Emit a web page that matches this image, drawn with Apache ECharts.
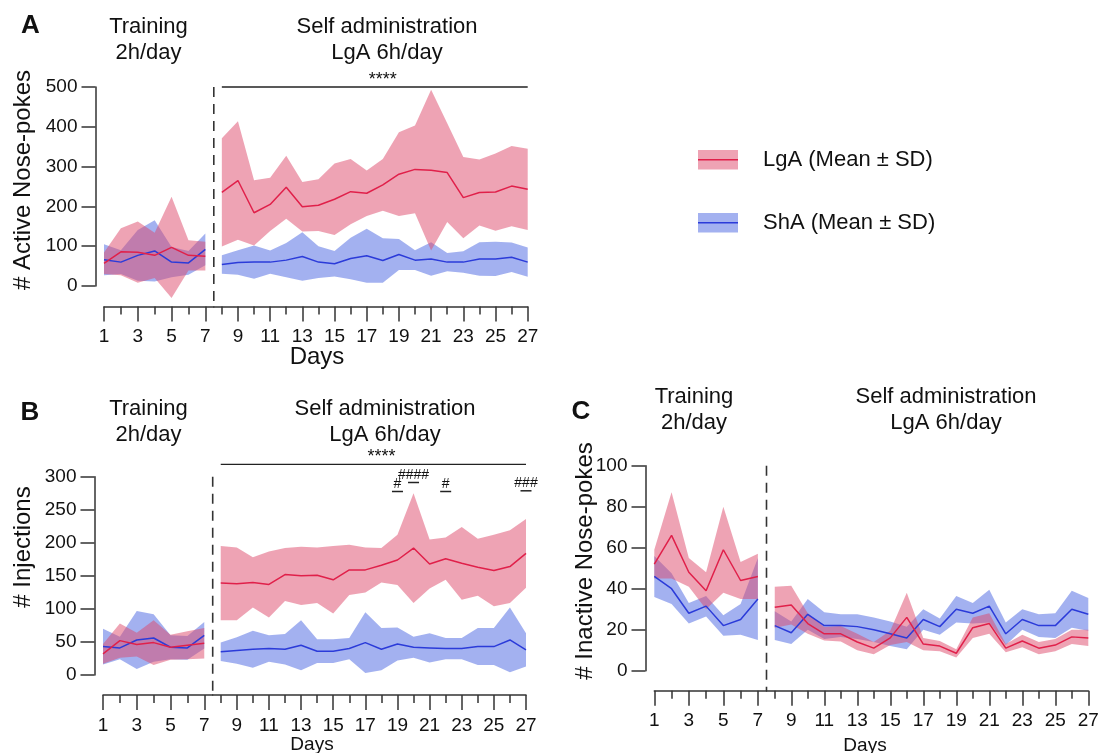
<!DOCTYPE html>
<html>
<head>
<meta charset="utf-8">
<script src="https://cdn.jsdelivr.net/npm/echarts@6/dist/echarts.min.js"></script>
<style>
  html, body { margin: 0; padding: 0; background: #fff; }
  #chart { width: 1102px; height: 753px; }
</style>
</head>
<body>
<div id="chart"></div>
<script>
const trainingDays = [1, 2, 3, 4, 5, 6, 7]
const selfAdminDays = [8, 9, 10, 11, 12, 13, 14, 15, 16, 17, 18, 19, 20, 21, 22, 23, 24, 25, 26, 27]
const trainingMajor = [1, 3, 5, 7]
const trainingMinor = [2, 4, 6]
const selfAdminMajor = [9, 11, 13, 15, 17, 19, 21, 23, 25, 27]
const selfAdminMinor = [8, 10, 12, 14, 16, 18, 20, 22, 24, 26]

// A - active nose-pokes (days 1..27)
const activeYTicks = [0, 100, 200, 300, 400, 500]
const activeLgaMean = [57, 86, 85, 77, 97, 77, 75, 235, 265, 184, 205, 248, 199, 203, 218, 237, 233, 254, 281, 293, 291, 285, 222, 235, 236, 251, 243]
const activeLgaSd = [27, 59, 77, 57, 127, 38, 36, 136, 149, 82, 67, 79, 62, 65, 90, 82, 57, 65, 105, 110, 202, 124, 102, 83, 97, 101, 102]
const activeShaMean = [66, 60, 77, 88, 60, 58, 92, 54, 59, 60, 60, 65, 74, 60, 56, 69, 76, 64, 79, 65, 68, 60, 60, 68, 68, 72, 60]
const activeShaSd = [39, 30, 64, 77, 38, 30, 40, 23, 31, 42, 29, 43, 61, 40, 32, 52, 68, 56, 39, 25, 42, 23, 27, 42, 43, 37, 37]

// B - injections
const injYTicks = [0, 50, 100, 150, 200, 250, 300]
const injLgaMean = [32, 52, 46, 49, 42, 45, 48, 139, 138, 140, 137, 152, 150, 151, 144, 159, 159, 166, 174, 192, 168, 176, 169, 163, 158, 164, 184]
const injLgaSd = [15, 26, 18, 34, 19, 21, 23, 56, 55, 38, 50, 40, 44, 42, 51, 38, 34, 26, 38, 83, 37, 32, 55, 43, 54, 55, 52]
const injShaMean = [43, 41, 53, 56, 42, 41, 60, 35, 37, 39, 40, 39, 45, 36, 36, 40, 49, 39, 47, 42, 41, 40, 40, 43, 43, 53, 38]
const injShaSd = [27, 17, 44, 36, 18, 18, 20, 14, 20, 28, 20, 23, 38, 18, 18, 16, 46, 32, 25, 16, 22, 16, 16, 28, 28, 49, 25]
const hashDays = [19, 20, 22, 27]
const hashLabels = ['#', '####', '#', '###']

// C - inactive nose-pokes
const inactYTicks = [0, 20, 40, 60, 80, 100]
const inactLgaMean = [52, 66, 48, 39, 59, 44, 46, 31, 32, 23, 18, 18, 14, 11, 16, 26, 13, 12, 8.5, 21, 23, 11, 14.5, 11, 12.5, 16.5, 16]
const inactLgaSd = [7, 21, 7, 9, 21, 9, 11, 10, 9.5, 5, 3.3, 3.8, 4, 3, 3.5, 12, 3, 2.5, 2, 5, 5, 2, 3, 3, 3, 3.5, 4]
const inactShaMean = [46, 40, 28, 31.5, 22, 25, 35, 22, 18.5, 27.5, 22, 22, 21.5, 20, 18, 16, 25, 21.5, 30, 28, 31.5, 18, 25, 22, 22, 30, 27.5]
const inactShaSd = [10, 7.5, 5, 5, 5, 7.5, 20, 7, 5.5, 7.5, 6.5, 5.5, 6, 6, 6, 5.5, 5, 4, 6.5, 5, 8, 5.5, 5, 5.5, 6, 9, 8]

const FONT = 'Liberation Sans, Arial, Helvetica, sans-serif'
const INK = '#111'
const AXIS = '#333'
const LGA_LINE = '#e0204a'
const LGA_FILL = 'rgba(222, 72, 106, 0.5)'
const SHA_LINE = '#2b3bd9'
const SHA_FILL = 'rgba(72, 100, 226, 0.5)'

const panels = [
  { ticks: activeYTicks, lga: [activeLgaMean, activeLgaSd], sha: [activeShaMean, activeShaSd],
    left: 104, sep: 213.8, right: 527.7, top: 87, bottom: 286, drop: 20.5, yGap: 8.5 },
  { ticks: injYTicks, lga: [injLgaMean, injLgaSd], sha: [injShaMean, injShaSd],
    left: 103, sep: 212.7, right: 526, top: 476.7, bottom: 675, drop: 20, yGap: 8.5 },
  { ticks: inactYTicks, lga: [inactLgaMean, inactLgaSd], sha: [inactShaMean, inactShaSd],
    left: 654.3, sep: 766.5, right: 1088.3, top: 465.7, bottom: 670.7, drop: 20, yGap: 8.8 }
]

const grid = []
const xAxis = []
const yAxis = []
const series = []

// mean line plus a mean ± SD band (polygon through the axis scales)
function bandSeries(xIdx, yIdx, days, offset, mean, sd, line, fill) {
  const lower = days.map((d, i) => mean[offset + i] - sd[offset + i])
  const upper = days.map((d, i) => mean[offset + i] + sd[offset + i])
  return [
    {
      type: 'custom', xAxisIndex: xIdx, yAxisIndex: yIdx, silent: true, clip: false, animation: false,
      data: days.map((d, i) => [d, lower[i], upper[i]]),
      encode: { x: 0, y: [1, 2] },
      renderItem(params, api) {
        if (params.dataIndex !== 0) return null
        const top = days.map((d, i) => api.coord([d, upper[i]]))
        const bottom = days.map((d, i) => api.coord([d, lower[i]])).reverse()
        return { type: 'polygon', shape: { points: top.concat(bottom) }, style: { fill: fill } }
      }
    },
    {
      type: 'line', xAxisIndex: xIdx, yAxisIndex: yIdx, symbol: 'none', showSymbol: false,
      silent: true, clip: false, animation: false,
      data: days.map((d, i) => [d, mean[offset + i]]),
      lineStyle: { color: line, width: 1.5 }
    }
  ]
}

panels.forEach((p, pi) => {
  const sections = [
    { days: trainingDays, offset: 0, min: 1, max: 7.5, x0: p.left, x1: p.sep, major: trainingMajor, minor: trainingMinor },
    { days: selfAdminDays, offset: 7, min: 7.5, max: 27, x0: p.sep, x1: p.right, major: selfAdminMajor, minor: selfAdminMinor }
  ]
  sections.forEach((s, si) => {
    const g = grid.length
    grid.push({ left: s.x0, top: p.top, width: s.x1 - s.x0, height: p.bottom - p.top, outerBoundsMode: 'none', containLabel: false })
    const xi = xAxis.length
    xAxis.push({
      gridIndex: g, type: 'value', min: s.min, max: s.max, position: 'bottom', offset: p.drop,
      axisLine: { show: true, onZero: false, lineStyle: { color: AXIS, width: 1.5 } },
      axisTick: { show: true, length: 15, customValues: s.major, lineStyle: { color: AXIS, width: 1.5 } },
      axisLabel: { show: true, customValues: s.major, margin: 21, fontSize: 19, fontFamily: FONT, color: INK },
      splitLine: { show: false }
    })
    xAxis.push({
      gridIndex: g, type: 'value', min: s.min, max: s.max, position: 'bottom', offset: p.drop,
      axisLine: { show: false, onZero: false },
      axisTick: { show: true, length: 8, customValues: s.minor, lineStyle: { color: AXIS, width: 1.5 } },
      axisLabel: { show: false },
      splitLine: { show: false }
    })
    const yi = yAxis.length
    yAxis.push({
      gridIndex: g, type: 'value', show: si === 0,
      min: p.ticks[0], max: p.ticks[p.ticks.length - 1], interval: p.ticks[1] - p.ticks[0],
      position: 'left', offset: p.yGap,
      axisLine: { show: true, onZero: false, lineStyle: { color: AXIS, width: 1.5 } },
      axisTick: { show: true, length: 14, lineStyle: { color: AXIS, width: 1.5 } },
      axisLabel: { margin: 18, fontSize: 19, fontFamily: FONT, color: INK },
      splitLine: { show: false }
    })
    series.push(...bandSeries(xi, yi, s.days, s.offset, p.sha[0], p.sha[1], SHA_LINE, SHA_FILL))
    series.push(...bandSeries(xi, yi, s.days, s.offset, p.lga[0], p.lga[1], LGA_LINE, LGA_FILL))
  })
})

const chart = echarts.init(document.getElementById('chart'))
chart.setOption({
  animation: false,
  backgroundColor: '#fff',
  textStyle: { fontFamily: FONT },
  grid, xAxis, yAxis, series
})

function text(x, y, str, size, extra) {
  return {
    type: 'text', x, y, silent: true,
    style: Object.assign({
      text: str, fontSize: size, fontFamily: FONT, fill: INK,
      align: 'center', verticalAlign: 'middle', textAlign: 'center', textVerticalAlign: 'middle'
    }, extra || {})
  }
}

const graphic = []
panels.forEach((p, pi) => {
  const xl = pi * 4
  const yl = pi * 2
  // dashed separator between training and self administration
  const sepTop = chart.convertToPixel({ xAxisIndex: xl, yAxisIndex: yl }, [7.5, p.ticks[p.ticks.length - 1]])
  const sepBottom = chart.convertToPixel({ xAxisIndex: xl, yAxisIndex: yl }, [7.5, p.ticks[0]])
  graphic.push({
    type: 'line', silent: true,
    shape: { x1: sepTop[0], y1: sepTop[1], x2: sepTop[0], y2: sepBottom[1] + p.drop },
    style: { stroke: AXIS, lineWidth: 1.6, lineDash: [10, 7] }
  })
})

// significance bars (A and B)
;[[0, 0], [1, 12.4]].forEach(([pi, lift]) => {
  const p = panels[pi]
  const xr = pi * 4 + 2
  const yr = pi * 2 + 1
  const yMax = p.ticks[p.ticks.length - 1]
  const a = chart.convertToPixel({ xAxisIndex: xr, yAxisIndex: yr }, [8, yMax])
  const b = chart.convertToPixel({ xAxisIndex: xr, yAxisIndex: yr }, [27, yMax])
  const c = chart.convertToPixel({ xAxisIndex: xr, yAxisIndex: yr }, [18, yMax])
  graphic.push({ type: 'line', silent: true, shape: { x1: a[0], y1: a[1] - lift, x2: b[0], y2: b[1] - lift },
    style: { stroke: '#222', lineWidth: 1.3 } })
  graphic.push(text(c[0], a[1] - lift - 7, '****', 18))
})

// post-hoc marks in B
const hashLift = [-7.3, 1.7, -7.3, -6.6]
hashDays.forEach((d, i) => {
  const pt = chart.convertToPixel({ xAxisIndex: 6, yAxisIndex: 3 }, [d, 300])
  const ty = pt[1] - hashLift[i]
  graphic.push(text(pt[0], ty, hashLabels[i], 14))
  graphic.push({ type: 'line', silent: true, shape: { x1: pt[0] - 5.5, y1: ty + 7.5, x2: pt[0] + 5.5, y2: ty + 7.5 },
    style: { stroke: '#222', lineWidth: 1.5 } })
})

// panel letters, headers, axis titles
graphic.push(text(30.5, 26, 'A', 26, { fontWeight: 'bold' }))
graphic.push(text(30, 413, 'B', 26, { fontWeight: 'bold' }))
graphic.push(text(581, 412, 'C', 26, { fontWeight: 'bold' }))
;[[148.5, 40], [148.5, 421.5], [694, 410]].forEach(([x, y]) => graphic.push(text(x, y, 'Training\n2h/day', 22, { lineHeight: 26 })))
;[[387, 40], [385, 421.5], [946, 410]].forEach(([x, y]) => graphic.push(text(x, y, 'Self administration\nLgA 6h/day', 22, { lineHeight: 26 })))
graphic.push(Object.assign(text(23, 180, '# Active Nose-pokes', 24), { rotation: Math.PI / 2 }))
graphic.push(Object.assign(text(23, 547, '# Injections', 24), { rotation: Math.PI / 2 }))
graphic.push(Object.assign(text(585, 561, '# Inactive Nose-pokes', 24), { rotation: Math.PI / 2 }))
graphic.push(text(317, 357, 'Days', 24))
graphic.push(text(312, 745, 'Days', 19))
graphic.push(text(865, 746, 'Days', 19))

// legend
;[[150, LGA_FILL, LGA_LINE, 'LgA (Mean ± SD)'], [213, SHA_FILL, SHA_LINE, 'ShA (Mean ± SD)']].forEach(([y, fill, line, label]) => {
  graphic.push({ type: 'rect', silent: true, shape: { x: 698, y: y, width: 40, height: 19.5 }, style: { fill: fill } })
  graphic.push({ type: 'line', silent: true, shape: { x1: 698, y1: y + 9.75, x2: 738, y2: y + 9.75 }, style: { stroke: line, lineWidth: 1.5 } })
  graphic.push(text(763, y + 9.5, label, 22, { align: 'left', textAlign: 'left' }))
})

chart.setOption({ graphic })
</script>
</body>
</html>
